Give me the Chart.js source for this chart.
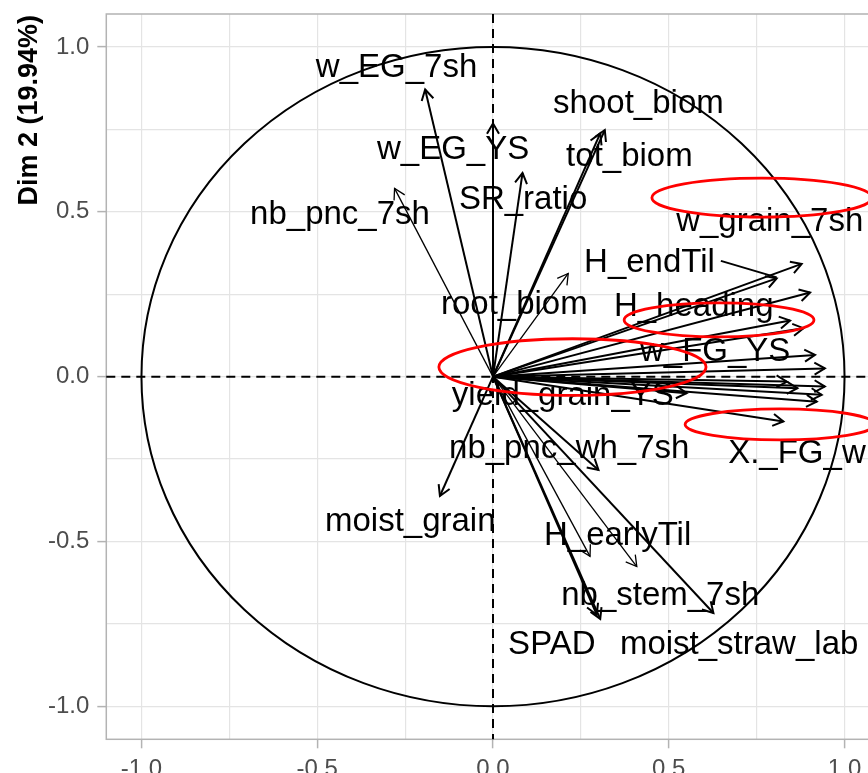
<!DOCTYPE html>
<html>
<head>
<meta charset="utf-8">
<script src="https://cdn.jsdelivr.net/npm/chart.js@4.4.1/dist/chart.umd.min.js"></script>
<style>
  html, body { margin: 0; padding: 0; overflow: hidden; background: #ffffff; }
  #wrap { width: 900px; height: 800px; }
</style>
</head>
<body>
<div id="wrap"><canvas id="pca" width="900" height="800"></canvas></div>
<script>
// Variable coordinates on the first two dimensions ('' = arrow drawn without a label)
const variables = [
  'w_EG_7sh', 'w_EG_YS', 'nb_pnc_7sh', 'SR_ratio', 'shoot_biom', 'tot_biom', 'root_biom',
  'w_grain_7sh', 'H_endTil', 'H_heading', '', '', 'w_FG_YS', '', '', '', '', '',
  'yield_grain_YS', 'X._FG_wh_7sh', '',
  'moist_grain', 'nb_pnc_wh_7sh', 'H_earlyTil', '', 'nb_stem_7sh', 'SPAD', 'moist_straw_lab'
];
const dim1 = [
  -0.193, 0.000, -0.280, 0.084, 0.318, 0.305, 0.214,
  0.878, 0.807, 0.902, 0.845, 0.883, 0.916, 0.944, 0.944, 0.935, 0.836, 0.866,
  0.551, 0.826, 0.921,
  -0.151, 0.300, 0.276, 0.409, 0.305, 0.295, 0.627
];
const dim2 = [
  0.871, 0.768, 0.571, 0.618, 0.748, 0.738, 0.313,
  0.342, 0.298, 0.255, 0.170, 0.147, 0.066, 0.025, -0.030, -0.055, -0.015, -0.035,
  -0.050, -0.136, -0.076,
  -0.362, -0.283, -0.545, -0.576, -0.735, -0.722, -0.717
];
const axisTicks = [-1.0, -0.75, -0.5, -0.25, 0.0, 0.25, 0.5, 0.75, 1.0];
const yTitle = 'Dim 2 (19.94%)';

// Where each repelled label sits (left edge, vertical centre) in axis units
const labelSpot = {
  'w_EG_7sh': [-0.504, 0.935], 'w_EG_YS': [-0.330, 0.687], 'nb_pnc_7sh': [-0.691, 0.490],
  'SR_ratio': [-0.097, 0.535], 'shoot_biom': [0.171, 0.826], 'tot_biom': [0.208, 0.666],
  'root_biom': [-0.148, 0.217], 'w_grain_7sh': [0.521, 0.469], 'H_endTil': [0.259, 0.345],
  'H_heading': [0.344, 0.211], 'w_FG_YS': [0.418, 0.075], 'yield_grain_YS': [-0.117, -0.058],
  'X._FG_wh_7sh': [0.669, -0.234], 'moist_grain': [-0.478, -0.440],
  'nb_pnc_wh_7sh': [-0.125, -0.219], 'H_earlyTil': [0.145, -0.483],
  'nb_stem_7sh': [0.194, -0.665], 'SPAD': [0.043, -0.813], 'moist_straw_lab': [0.361, -0.813]
};
const leaderFor = ['H_endTil'];
const thinArrows = new Set([2, 6, 23, 24]);

// Red highlight rings: centre and half-axes in axis units
const rings = [
  { cx: 0.765, cy: 0.543, rx: 0.313, ry: 0.059 },
  { cx: 0.643, cy: 0.172, rx: 0.270, ry: 0.0515 },
  { cx: 0.226, cy: 0.029, rx: 0.380, ry: 0.086 },
  { cx: 0.8165, cy: -0.145, rx: 0.270, ry: 0.047 }
];

const FONT = '"Liberation Sans", Arial, sans-serif';
const isMajor = v => Math.abs(v * 2 - Math.round(v * 2)) < 1e-9;
const arrowWidth = i => thinArrows.has(i) ? 1.3 : 2;

const datasets = variables.map((name, i) => ({
  label: name,
  data: [{ x: 0, y: 0 }, { x: dim1[i], y: dim2[i] }],
  showLine: true,
  borderColor: '#000000',
  borderWidth: arrowWidth(i),
  pointRadius: 0,
  pointHoverRadius: 0,
  fill: false
}));

const backdrop = {
  id: 'backdrop',
  beforeDraw(chart) {
    const c = chart.ctx;
    c.save();
    c.fillStyle = '#ffffff';
    c.fillRect(0, 0, chart.width, chart.height);
    c.restore();
  },
  beforeDatasetsDraw(chart) {
    const { ctx: c, chartArea: a } = chart;
    c.save();
    c.strokeStyle = '#b3b3b3';
    c.lineWidth = 1.5;
    c.strokeRect(a.left, a.top, a.right - a.left, a.bottom - a.top);
    c.restore();
  }
};

const overlay = {
  id: 'overlay',
  afterDatasetsDraw(chart) {
    const c = chart.ctx;
    const xs = chart.scales.x, ys = chart.scales.y;
    const a = chart.chartArea;
    const px = v => xs.getPixelForValue(v);
    const py = v => ys.getPixelForValue(v);
    const x0 = px(0), y0 = py(0);

    // arrow heads
    c.save();
    c.strokeStyle = '#000000';
    c.lineJoin = 'miter';
    variables.forEach((n, i) => {
      const x1 = px(dim1[i]), y1 = py(dim2[i]);
      const ang = Math.atan2(y1 - y0, x1 - x0);
      const len = 12, spread = Math.PI / 6;
      c.lineWidth = arrowWidth(i);
      c.beginPath();
      c.moveTo(x1 - len * Math.cos(ang - spread), y1 - len * Math.sin(ang - spread));
      c.lineTo(x1, y1);
      c.lineTo(x1 - len * Math.cos(ang + spread), y1 - len * Math.sin(ang + spread));
      c.stroke();
    });
    c.restore();

    // dashed reference axes
    c.save();
    c.strokeStyle = '#000000';
    c.lineWidth = 2;
    c.setLineDash([9, 6]);
    c.beginPath();
    c.moveTo(a.left, y0); c.lineTo(a.right, y0);
    c.moveTo(x0, a.top); c.lineTo(x0, a.bottom);
    c.stroke();
    c.restore();

    // correlation circle
    c.save();
    c.strokeStyle = '#000000';
    c.lineWidth = 2;
    c.beginPath();
    c.ellipse(x0, y0, Math.abs(px(1) - x0), Math.abs(py(1) - y0), 0, 0, Math.PI * 2);
    c.stroke();
    c.restore();

    // variable labels
    c.save();
    c.font = '33px ' + FONT;
    c.fillStyle = '#000000';
    c.textAlign = 'left';
    c.textBaseline = 'middle';
    variables.forEach((n, i) => {
      if (!n || !labelSpot[n]) return;
      const lx = px(labelSpot[n][0]), ly = py(labelSpot[n][1]);
      c.fillText(n, lx, ly);
      if (leaderFor.includes(n)) {
        const w = c.measureText(n).width;
        c.strokeStyle = '#000000';
        c.lineWidth = 2;
        c.beginPath();
        c.moveTo(lx + w + 6, ly - 2);
        c.lineTo(px(dim1[i]), py(dim2[i]) - 1);
        c.stroke();
      }
    });
    c.restore();

    // red highlight rings
    c.save();
    c.strokeStyle = '#ff0000';
    c.lineWidth = 2.8;
    rings.forEach(r => {
      c.beginPath();
      c.ellipse(px(r.cx), py(r.cy), Math.abs(px(r.cx + r.rx) - px(r.cx)),
        Math.abs(py(r.cy + r.ry) - py(r.cy)), 0, 0, Math.PI * 2);
      c.stroke();
    });
    c.restore();

    // y axis title
    c.save();
    c.font = 'bold 27px ' + FONT;
    c.fillStyle = '#000000';
    c.translate(37, 15);
    c.rotate(-Math.PI / 2);
    c.textAlign = 'right';
    c.textBaseline = 'alphabetic';
    c.fillText(yTitle, 0, 0);
    c.restore();
  }
};

const axisCommon = {
  type: 'linear',
  min: -1.1,
  max: 1.1,
  afterBuildTicks: s => { s.ticks = axisTicks.map(v => ({ value: v })); },
  border: { display: false },
  grid: {
    color: '#e4e4e4',
    lineWidth: 1.2,
    tickLength: 9,
    tickWidth: 1.5,
    tickColor: ctx => (ctx.tick && isMajor(ctx.tick.value)) ? '#b3b3b3' : 'rgba(0,0,0,0)'
  }
};

new Chart(document.getElementById('pca'), {
  type: 'scatter',
  data: { datasets },
  options: {
    responsive: false,
    animation: false,
    events: [],
    layout: { padding: { top: 14, right: 20.3, left: 0, bottom: 0 } },
    plugins: { legend: { display: false }, tooltip: { enabled: false } },
    scales: {
      x: Object.assign({}, axisCommon, {
        position: 'bottom',
        afterFit: s => { s.height = 60.7; s.paddingLeft = 0; s.paddingRight = 0; },
        ticks: {
          autoSkip: false, maxRotation: 0, padding: 7,
          color: '#4d4d4d', font: { family: FONT, size: 24 },
          callback: v => isMajor(v) ? v.toFixed(1) : ''
        }
      }),
      y: Object.assign({}, axisCommon, {
        position: 'left',
        afterFit: s => { s.width = 106.3; s.paddingTop = 0; s.paddingBottom = 0; },
        ticks: {
          autoSkip: false, padding: 8,
          color: '#4d4d4d', font: { family: FONT, size: 24 },
          callback: v => isMajor(v) ? v.toFixed(1) : ''
        }
      })
    }
  },
  plugins: [backdrop, overlay]
});
</script>
</body>
</html>
